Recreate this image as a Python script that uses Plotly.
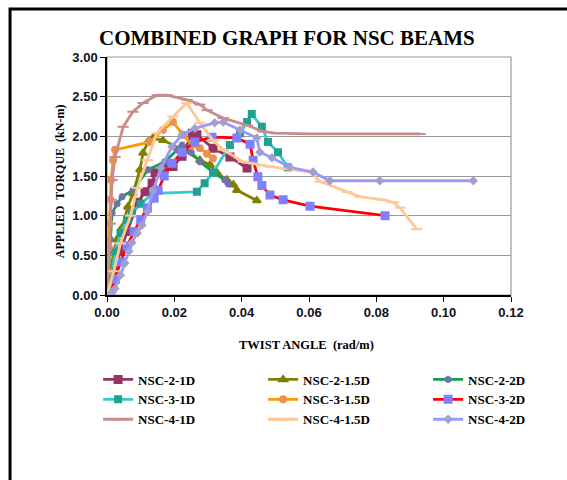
import plotly.graph_objects as go

# ---- data (twist angle rad/m, torque kN-m) ----
names = ["NSC-2-1D", "NSC-2-1.5D", "NSC-2-2D",
         "NSC-3-1D", "NSC-3-1.5D", "NSC-3-2D",
         "NSC-4-1D", "NSC-4-1.5D", "NSC-4-2D"]

x_2_1d = [0.0, 0.002, 0.004, 0.006, 0.0092, 0.0113, 0.0134, 0.0143, 0.017, 0.0196, 0.0223, 0.0253, 0.0267, 0.0315, 0.0365, 0.0416]
y_2_1d = [0.0, 0.30, 0.55, 0.80, 1.17, 1.30, 1.41, 1.54, 1.60, 1.62, 1.75, 2.04, 2.02, 1.85, 1.74, 1.60]

x_2_15d = [0.0, 0.001, 0.002, 0.003, 0.0045, 0.0062, 0.0077, 0.0098, 0.0107, 0.0122, 0.0137, 0.0166, 0.0226, 0.0276, 0.0306, 0.0327, 0.0356, 0.0375, 0.0386, 0.0445]
y_2_15d = [0.0, 0.30, 0.55, 0.70, 0.85, 1.11, 1.28, 1.58, 1.79, 1.93, 1.98, 1.95, 1.83, 1.70, 1.64, 1.54, 1.45, 1.39, 1.32, 1.19]

x_2_2d = [0.0, 0.0005, 0.001, 0.0015, 0.003, 0.0045, 0.0077, 0.0122, 0.0172, 0.0208, 0.0223, 0.025, 0.0276, 0.0315, 0.035, 0.036]
y_2_2d = [0.0, 0.30, 0.70, 1.03, 1.15, 1.24, 1.32, 1.58, 1.68, 1.83, 1.89, 1.80, 1.68, 1.55, 1.45, 1.40]

x_3_1d = [0.001, 0.0015, 0.0025, 0.004, 0.006, 0.0074, 0.010, 0.0137, 0.0267, 0.029, 0.0315, 0.0365, 0.0395, 0.0416, 0.043, 0.046, 0.0478, 0.0508, 0.0537]
y_3_1d = [0.0, 0.30, 0.55, 0.78, 0.95, 1.03, 1.15, 1.28, 1.30, 1.41, 1.54, 1.89, 2.04, 2.18, 2.28, 2.12, 1.93, 1.80, 1.61]

x_3_15d = [0.0, 0.0003, 0.0005, 0.0007, 0.001, 0.0012, 0.0018, 0.0024, 0.0128, 0.0166, 0.0196, 0.0226, 0.0253, 0.0276, 0.0297, 0.0315]
y_3_15d = [0.0, 0.30, 0.60, 0.90, 1.20, 1.45, 1.70, 1.83, 1.93, 2.08, 2.18, 2.02, 1.89, 1.85, 1.78, 1.72]

x_3_2d = [0.001, 0.0025, 0.004, 0.006, 0.008, 0.010, 0.012, 0.014, 0.0152, 0.017, 0.0193, 0.0223, 0.0261, 0.0312, 0.0386, 0.0425, 0.0434, 0.0448, 0.046, 0.0484, 0.0523, 0.0603, 0.0826]
y_3_2d = [0.0, 0.20, 0.42, 0.62, 0.80, 0.95, 1.10, 1.22, 1.32, 1.50, 1.66, 1.80, 1.93, 1.99, 1.98, 1.90, 1.70, 1.49, 1.38, 1.26, 1.20, 1.12, 1.00]

x_4_1d = [0.0, 0.0005, 0.0008, 0.001, 0.0012, 0.0015, 0.0024, 0.0048, 0.0077, 0.0107, 0.0149, 0.0178, 0.0238, 0.0276, 0.0297, 0.0345, 0.0416, 0.0463, 0.050, 0.060, 0.070, 0.080, 0.093]
y_4_1d = [0.0, 0.30, 0.60, 0.90, 1.20, 1.45, 1.74, 2.12, 2.31, 2.42, 2.52, 2.52, 2.46, 2.40, 2.33, 2.23, 2.14, 2.06, 2.04, 2.03, 2.03, 2.03, 2.03]

x_4_15d = [0.0, 0.002, 0.004, 0.007, 0.009, 0.012, 0.0148, 0.0196, 0.0237, 0.0276, 0.0315, 0.0345, 0.0404, 0.048, 0.0603, 0.0633, 0.0713, 0.0751, 0.082, 0.085, 0.087, 0.092]
y_4_15d = [0.0, 0.30, 0.65, 1.00, 1.35, 1.70, 2.04, 2.25, 2.42, 2.17, 1.95, 1.83, 1.68, 1.62, 1.55, 1.43, 1.30, 1.24, 1.20, 1.17, 1.10, 0.83]

x_4_2d = [0.001, 0.0015, 0.0024, 0.004, 0.0053, 0.0065, 0.0074, 0.009, 0.0104, 0.012, 0.0137, 0.016, 0.0193, 0.0223, 0.0261, 0.032, 0.0345, 0.0395, 0.0445, 0.0454, 0.049, 0.0543, 0.0612, 0.0662, 0.081, 0.1088]
y_4_2d = [0.0, 0.03, 0.08, 0.25, 0.40, 0.55, 0.66, 0.78, 0.88, 1.05, 1.32, 1.60, 1.87, 2.02, 2.10, 2.17, 2.18, 2.08, 1.98, 1.80, 1.73, 1.61, 1.55, 1.44, 1.44, 1.44]

xs = [x_2_1d, x_2_15d, x_2_2d, x_3_1d, x_3_15d, x_3_2d, x_4_1d, x_4_15d, x_4_2d]
ys = [y_2_1d, y_2_15d, y_2_2d, y_3_1d, y_3_15d, y_3_2d, y_4_1d, y_4_15d, y_4_2d]

x_ticks = [0.0, 0.02, 0.04, 0.06, 0.08, 0.10, 0.12]
y_ticks = [0.0, 0.5, 1.0, 1.5, 2.0, 2.5, 3.0]

# ---- styles ----
line_colors = ["#993366", "#808000", "#10A050", "#33CCCC", "#FF9900", "#FF0000", "#C88C8C", "#FFC890", "#9999FF"]
marker_colors = ["#993366", "#808000", "#7070B0", "#20A090", "#F09050", "#8080FF", "#C88C8C", "#FFC890", "#A0A0D0"]
marker_symbols = ["square", "triangle-up", "asterisk", "square", "circle", "square", "line-ew", "line-ew", "diamond"]
marker_sizes = [7, 7, 6, 6, 6, 7, 8, 8, 5]

fig = go.Figure()
for i, n in enumerate(names):
    mk = dict(symbol=marker_symbols[i], size=marker_sizes[i], color=marker_colors[i],
              line=dict(color=marker_colors[i], width=2))
    fig.add_trace(go.Scatter(x=xs[i], y=ys[i], name=n, mode="lines+markers",
                             line=dict(color=line_colors[i], width=2.8),
                             marker=mk))

tickfont = dict(family="Liberation Sans, Arial", size=13, color="#111122")
serif = "Liberation Serif, Times New Roman, serif"

fig.update_layout(
    width=567, height=480,
    margin=dict(l=107, r=56, t=57, b=185, autoexpand=False),
    paper_bgcolor="white", plot_bgcolor="white",
    showlegend=True,
    legend=dict(orientation="h", x=-0.022, y=-0.292, xanchor="left", yanchor="top",
                entrywidth=120, entrywidthmode="pixels",
                font=dict(family=serif, size=13, color="black", weight="bold"),
                tracegroupgap=0, itemwidth=30),
    xaxis=dict(range=[0, 0.12], tickvals=x_ticks, ticktext=[f"{v:.2f}" for v in x_ticks],
               showgrid=False, zeroline=False, showline=True, linecolor="black", linewidth=1.5,
               ticks="outside", ticklen=5, tickcolor="black", tickfont=dict(**tickfont, weight="bold")),
    yaxis=dict(range=[0, 3.0], tickvals=y_ticks, ticktext=[f"{v:.2f}" for v in y_ticks],
               showgrid=True, gridcolor="#999999", gridwidth=1.2, zeroline=False,
               showline=True, linecolor="black", linewidth=1.5,
               ticks="outside", ticklen=5, tickcolor="black", tickfont=dict(**tickfont, weight="bold")),
    shapes=[
        dict(type="rect", xref="paper", yref="paper", x0=0, x1=1, y0=0, y1=1,
             line=dict(color="#999999", width=1.2), layer="below"),
        dict(type="rect", xref="paper", yref="paper", x0=-0.240, x1=1.25, y0=-0.9, y1=1.2017,
             line=dict(color="black", width=3), layer="above"),
    ],
    annotations=[
        dict(text="COMBINED GRAPH FOR NSC BEAMS", xref="paper", yref="paper",
             x=0.4455, y=1.08, xanchor="center", yanchor="middle", showarrow=False,
             font=dict(family=serif, size=21, color="black", weight="bold")),
        dict(text="APPLIED  TORQUE  (kN-m)", xref="paper", yref="paper",
             x=-0.116, y=0.479, xanchor="center", yanchor="middle", showarrow=False, textangle=-90,
             font=dict(family=serif, size=12, color="black", weight="bold")),
        dict(text="TWIST ANGLE  (rad/m)", xref="paper", yref="paper",
             x=0.4926, y=-0.21, xanchor="center", yanchor="middle", showarrow=False,
             font=dict(family=serif, size=12.5, color="black", weight="bold")),
    ],
)

fig.write_html("out.html")
